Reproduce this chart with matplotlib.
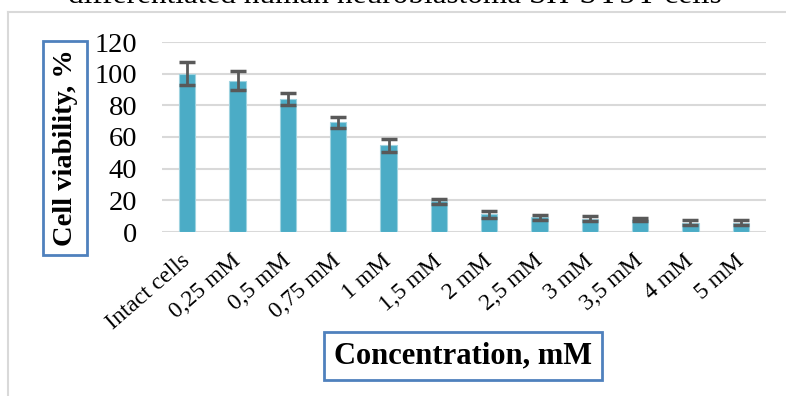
import numpy as np
import matplotlib
matplotlib.use('Agg')
import matplotlib.pyplot as plt
from matplotlib.lines import Line2D

# 데이터
labels = ['Intact cells', '0,25 mM', '0,5 mM', '0,75 mM', '1 mM', '1,5 mM',
          '2 mM', '2,5 mM', '3 mM', '3,5 mM', '4 mM', '5 mM']
viability = [100, 95.6, 84, 69.3, 54.7, 19.5, 11.2, 9.2, 8.3, 7.8, 5.9, 5.9]
errors = [7.4, 6, 4, 3.6, 4, 1.6, 2.2, 1.7, 1.6, 1.1, 1.5, 1.5]

plt.rcParams['font.family'] = ['Liberation Serif', 'DejaVu Serif']

fig = plt.figure(figsize=(7.86, 3.96), dpi=100)
ax = fig.add_axes([162 / 786, 1 - 232 / 396, 604 / 786, 190 / 396])

x = np.arange(len(labels))
ax.bar(x, viability, width=0.32, color='#4BACC6', edgecolor='#9fd3e0', linewidth=0.8, zorder=3)
ax.errorbar(x, viability, yerr=errors, fmt='none', ecolor='#595959',
            elinewidth=2, capsize=5.5, capthick=2.5, zorder=4)

ax.set_xlim(-0.5, len(labels) - 0.5)
ax.set_ylim(0, 120)
ax.set_yticks(range(0, 121, 20))
ax.grid(axis='y', color='#d9d9d9', linewidth=1.5, zorder=0)
for s in ax.spines.values():
    s.set_visible(False)
ax.tick_params(axis='both', length=0)
ax.tick_params(axis='y', labelsize=20.5, pad=18)
ax.set_xticks(x)
ax.set_xticklabels(labels, rotation=41, ha='right', va='center',
                   rotation_mode='anchor', fontsize=17)
ax.tick_params(axis='x', pad=19)

# 축 제목 (박스)
box = dict(boxstyle='square,pad=0.32', fc='white', ec='#4F81BD', lw=2)
fig.text(65 / 786, 1 - 148 / 396, 'Cell viability, %', rotation=90,
         ha='center', va='center', fontsize=20.5, fontweight='bold', bbox=box)
fig.text(463 / 786, 1 - 356 / 396, 'Concentration, mM',
         ha='center', va='center', fontsize=22, fontweight='bold', bbox=box)

# 잘린 제목
fig.text(395 / 786, 1 - 3 / 396, 'differentiated human neuroblastoma SH-SY5Y cells',
         ha='center', va='baseline', fontsize=22.5)

# 바깥 테두리
fig.add_artist(Line2D([8 / 786, 8 / 786], [0, 1 - 12 / 396], color='#d9d9d9', lw=1.5))
fig.add_artist(Line2D([8 / 786, 1], [1 - 12 / 396, 1 - 12 / 396], color='#d9d9d9', lw=1.5))

fig.savefig('out.png', dpi=100)
